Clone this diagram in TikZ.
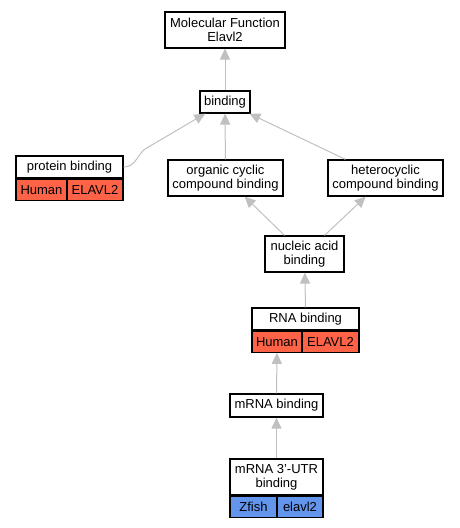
\documentclass[tikz,border=0pt]{standalone}
\usepackage{fontspec}
\setmainfont{Liberation Sans}
\usetikzlibrary{positioning,arrows.meta}

\definecolor{human}{RGB}{255,99,71}
\definecolor{zfish}{RGB}{100,149,237}
\definecolor{edgegray}{RGB}{192,192,192}

\tikzset{
  term/.style={draw, line width=1.2pt, fill=white, inner sep=0pt, align=center,
    font=\fontsize{13}{14}\selectfont},
  cell/.style={term, minimum height=21},
  isa/.style={draw=edgegray, line width=1pt, -{Triangle[length=11pt,width=10pt]}, edgegray}
}

\begin{document}
\begin{tikzpicture}[x=1pt, y=-1pt]
            \useasboundingbox (0,0) rectangle (459,528);

            \node [term, minimum width=120, minimum height=36] (mf) at (225,30) {Molecular Function\\Elavl2};
            \node [term, minimum width=50, minimum height=22] (bind) at (225,102) {binding};

            \node [term, minimum width=107, minimum height=22] (prot) at (69.5,167) {protein binding};
            \node [cell, fill=human, minimum width=51, anchor=north west] (protsp) at (prot.south west) {Human};
            \node [cell, fill=human, minimum width=56, anchor=north east] (protgn) at (prot.south east) {ELAVL2};

            \node [term, minimum width=115, minimum height=36] (org) at (225.5,178) {organic cyclic\\compound binding};
            \node [term, minimum width=115, minimum height=36] (het) at (385.5,178) {heterocyclic\\compound binding};
            \node [term, minimum width=79, minimum height=36] (nuc) at (304.5,254) {nucleic acid\\binding};

            \node [term, minimum width=107, minimum height=22] (rna) at (305.5,319) {RNA binding};
            \node [cell, fill=human, minimum width=50, anchor=north west] (rnasp) at (rna.south west) {Human};
            \node [cell, fill=human, minimum width=57, anchor=north east] (rnagn) at (rna.south east) {ELAVL2};

            \node [term, minimum width=93, minimum height=23] (mrna) at (276.5,405.5) {mRNA binding};

            \node [term, minimum width=93, minimum height=36] (utr) at (276.5,477) {mRNA 3'-UTR\\binding};
            \node [cell, fill=zfish, minimum width=47, anchor=north west] (utrsp) at (utr.south west) {Zfish};
            \node [cell, fill=zfish, minimum width=46, anchor=north east] (utrgn) at (utr.south east) {elavl2};

            \coordinate (pbend) at (145,149);

            \draw [isa] (bind) -- (mf);
            \draw [isa] (prot.east) .. controls +(12,0) and +(-8,6) .. (pbend) -- (bind);
            \draw [isa] (org) -- (bind);
            \draw [isa] ([xshift=-40]het.north) -- (bind);
            \draw [isa] ([xshift=-20]nuc.north) -- (org);
            \draw [isa] ([xshift=20]nuc.north) -- (het);
            \draw [isa] (rna.north) -- (nuc);
            \draw [isa] (mrna) -- (rnasp);
            \draw [isa] (utr) -- (mrna);
        \end{tikzpicture}
\end{document}
